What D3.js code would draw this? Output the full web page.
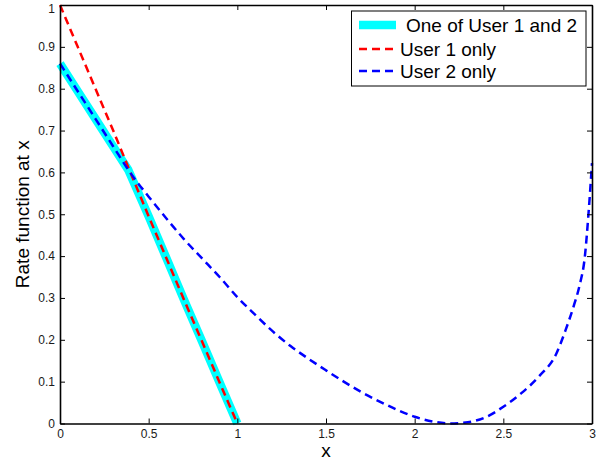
<!DOCTYPE html>
<html>
<head>
<meta charset="utf-8">
<script src="https://d3js.org/d3.v7.min.js"></script>
<style>
  body { margin: 0; background: #fff; }
  svg { display: block; font-family: "Liberation Sans", Arial, sans-serif; }
</style>
</head>
<body>
<div id="chart"></div>
<script>
// values
const xTicks = [0, 0.5, 1, 1.5, 2, 2.5, 3];
const yTicks = [0, 0.1, 0.2, 0.3, 0.4, 0.5, 0.6, 0.7, 0.8, 0.9, 1];

// "One of User 1 and 2" (thick cyan)
const bothX = [0, 0.1, 0.2, 0.3, 0.385, 0.5, 0.6, 0.7, 0.8, 0.9, 1.0];
const bothY = [0.86, 0.794, 0.728, 0.662, 0.606, 0.495, 0.395, 0.295, 0.197, 0.098, 0];

// "User 1 only" (red dashed)
const user1X = [0, 0.1, 0.2, 0.3, 0.4, 0.5, 0.6, 0.7, 0.8, 0.9, 1.0];
const user1Y = [1, 0.9, 0.8, 0.7, 0.597, 0.495, 0.395, 0.295, 0.197, 0.098, 0];

// "User 2 only" (blue dashed)
const user2X = [0, 0.1, 0.2, 0.3, 0.4, 0.5, 0.6, 0.7, 0.8, 0.9, 1.0, 1.1, 1.2, 1.3, 1.4, 1.5,
                1.6, 1.7, 1.8, 1.9, 2.0, 2.1, 2.2, 2.3, 2.4, 2.5, 2.6, 2.7, 2.8, 2.85, 2.9, 2.93,
                2.96, 2.98, 3.0];
const user2Y = [0.86, 0.794, 0.728, 0.662, 0.597, 0.542, 0.49, 0.44, 0.395, 0.35, 0.302, 0.26,
                0.22, 0.185, 0.155, 0.127, 0.1, 0.075, 0.053, 0.033, 0.016, 0.005, 0.0, 0.003,
                0.015, 0.04, 0.072, 0.112, 0.168, 0.222, 0.285, 0.33, 0.4, 0.5, 0.622];

const legendNames = ["One of User 1 and 2", "User 1 only", "User 2 only"];

const width = 609, height = 461;
const padL = 60, padR = 592, padT = 5, padB = 423.5;

const svg = d3.select("#chart").append("svg")
    .attr("width", width)
    .attr("height", height);

const x = d3.scaleLinear().domain([0, 3]).range([padL, padR]);
const y = d3.scaleLinear().domain([0, 1]).range([padB, padT]);

const zip = (xs, ys) => xs.map((v, i) => [v, ys[i]]);
const line = d3.line().x(d => x(d[0])).y(d => y(d[1]));
const smooth = d3.line().x(d => x(d[0])).y(d => y(d[1])).curve(d3.curveMonotoneX);

const plot = svg.append("g");

plot.append("path")
    .attr("d", line(zip(bothX, bothY)))
    .attr("fill", "none")
    .attr("stroke", "#00ffff")
    .attr("stroke-width", 8.5)
    .attr("stroke-linejoin", "round");

plot.append("path")
    .attr("d", line(zip(user1X, user1Y)))
    .attr("fill", "none")
    .attr("stroke", "#ff0000")
    .attr("stroke-width", 2.5)
    .attr("stroke-dasharray", "8,5");

plot.append("path")
    .attr("d", smooth(zip(user2X, user2Y)))
    .attr("fill", "none")
    .attr("stroke", "#0000ff")
    .attr("stroke-width", 2.5)
    .attr("stroke-dasharray", "8,5");

// axes, MATLAB style: ticks inside, box on
function styleAxis(g) {
    g.selectAll(".domain").attr("stroke", "#000").attr("stroke-width", 1.6);
    g.selectAll(".tick line").attr("stroke", "#000").attr("stroke-width", 1);
    g.selectAll(".tick text").attr("fill", "#1a1a1a").style("font-size", "12px");
}

svg.append("g")
    .attr("transform", `translate(0,${padB})`)
    .call(d3.axisBottom(x).tickValues(xTicks).tickSizeInner(-5).tickSizeOuter(0)
        .tickPadding(6).tickFormat(d3.format("")))
    .call(styleAxis);

svg.append("g")
    .attr("transform", `translate(0,${padT})`)
    .call(d3.axisTop(x).tickValues(xTicks).tickSizeInner(-5).tickSizeOuter(0).tickFormat(""))
    .call(styleAxis);

const yAxis = svg.append("g")
    .attr("transform", `translate(${padL},0)`)
    .call(d3.axisLeft(y).tickValues(yTicks).tickSizeInner(-5).tickSizeOuter(0)
        .tickPadding(5).tickFormat(d3.format("")))
    .call(styleAxis);
// keep the top "1" inside the picture
yAxis.selectAll(".tick text").filter(d => d === 1).attr("dy", "0.62em");

svg.append("g")
    .attr("transform", `translate(${padR},0)`)
    .call(d3.axisRight(y).tickValues(yTicks).tickSizeInner(-5).tickSizeOuter(0).tickFormat(""))
    .call(styleAxis);

// axis labels
svg.append("text")
    .attr("x", (padL + padR) / 2)
    .attr("y", 457)
    .attr("text-anchor", "middle")
    .style("font-size", "19px")
    .text("x");

svg.append("text")
    .attr("transform", `translate(29,${(padT + padB) / 2}) rotate(-90)`)
    .attr("text-anchor", "middle")
    .style("font-size", "19px")
    .text("Rate function at x");

// legend
const legend = svg.append("g");
legend.append("rect")
    .attr("x", 351.5).attr("y", 11)
    .attr("width", 234.5).attr("height", 75)
    .attr("fill", "#fff")
    .attr("stroke", "#000")
    .attr("stroke-width", 1);

const rowY = [25, 49, 71];
const rowText = [32, 56, 78];
const textX = [406, 400, 400];

legend.append("line")
    .attr("x1", 359).attr("x2", 396).attr("y1", rowY[0]).attr("y2", rowY[0])
    .attr("stroke", "#00ffff").attr("stroke-width", 8.5);
legend.append("line")
    .attr("x1", 359).attr("x2", 396).attr("y1", rowY[1]).attr("y2", rowY[1])
    .attr("stroke", "#ff0000").attr("stroke-width", 2.5).attr("stroke-dasharray", "8,5");
legend.append("line")
    .attr("x1", 359).attr("x2", 396).attr("y1", rowY[2]).attr("y2", rowY[2])
    .attr("stroke", "#0000ff").attr("stroke-width", 2.5).attr("stroke-dasharray", "8,5");

legend.selectAll("text.lab")
    .data(legendNames)
    .enter()
    .append("text")
    .attr("class", "lab")
    .attr("x", (d, i) => textX[i])
    .attr("y", (d, i) => rowText[i])
    .style("font-size", "19px")
    .text(d => d);
</script>
</body>
</html>
